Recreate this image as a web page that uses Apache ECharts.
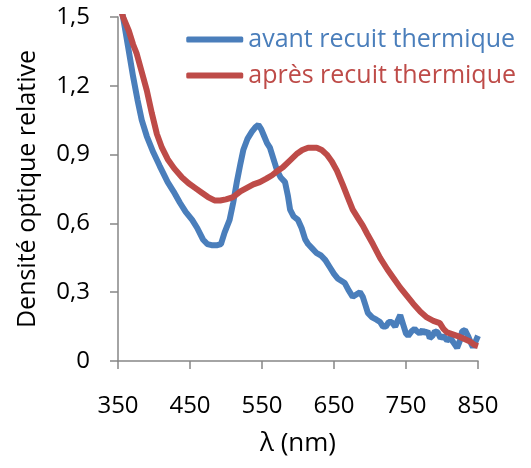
<!DOCTYPE html>
<html>
<head>
<meta charset="utf-8">
<script src="https://cdn.jsdelivr.net/npm/echarts@6/dist/echarts.min.js"></script>
<style>html,body{margin:0;padding:0;background:#fff}#c{width:531px;height:468px}</style>
</head>
<body>
<div id="c"></div>
<script>
var blueNm = [352,357,364,371,377,383,390,399,408,419,427,436,444,453,460,468,474,480,488,493,498,505,510,515,520,524,530,536,541,545,549,553,557,561,566,571,576,582,586,589,594,600,605,610,614,620,626,632,638,644,650,655,660,665,670,676,681,686,690,694,697,703,709,714,718,722,726,730,735,739,742,746,750,753,758,762,765,769,773,776,780,783,787,790,794,798,802,807,812,816,821,825,828,832,836,840,843,846,850];
var blueVal = [1.56,1.50,1.37,1.24,1.14,1.05,0.98,0.91,0.85,0.78,0.74,0.69,0.65,0.615,0.58,0.53,0.51,0.505,0.505,0.51,0.56,0.615,0.69,0.78,0.86,0.92,0.97,1.00,1.02,1.03,1.01,0.98,0.95,0.93,0.88,0.83,0.80,0.78,0.72,0.66,0.63,0.615,0.58,0.53,0.51,0.49,0.47,0.46,0.44,0.41,0.38,0.36,0.35,0.34,0.31,0.28,0.29,0.30,0.28,0.24,0.21,0.19,0.18,0.17,0.15,0.15,0.17,0.17,0.15,0.18,0.20,0.16,0.12,0.11,0.13,0.14,0.13,0.12,0.135,0.12,0.13,0.10,0.11,0.13,0.125,0.10,0.11,0.09,0.10,0.08,0.057,0.09,0.13,0.135,0.11,0.08,0.06,0.08,0.11];
var redNm = [352,357,365,371,376,383,390,397,404,411,419,428,439,448,457,466,475,484,492,500,510,520,529,538,547,556,564,572,579,589,599,606,614,620,626,633,640,647,654,662,669,676,684,690,696,704,714,724,733,742,751,760,770,779,788,797,802,807,816,825,832,839,845,850];
var redVal = [1.56,1.50,1.44,1.38,1.34,1.26,1.18,1.08,0.99,0.93,0.88,0.84,0.80,0.775,0.755,0.735,0.715,0.70,0.70,0.705,0.715,0.74,0.755,0.77,0.78,0.795,0.81,0.83,0.845,0.875,0.905,0.92,0.93,0.93,0.93,0.92,0.90,0.87,0.83,0.77,0.715,0.66,0.62,0.59,0.555,0.51,0.45,0.40,0.36,0.32,0.285,0.25,0.215,0.19,0.175,0.165,0.14,0.125,0.115,0.105,0.095,0.085,0.07,0.065];
var seriesNames = ['avant recuit thermique', 'après recuit thermique'];
var xTicks = [350,450,550,650,750,850];
var yTicks = [0,0.3,0.6,0.9,1.2,1.5];

function pairs(xs, ys){ return xs.map(function(x,i){ return [x, ys[i]]; }); }
var FONT = '"Open Sans"';
var axisColor = '#868686';
var blue = '#4a7ebb', red = '#be4b48';
var chart = echarts.init(document.getElementById('c'), null, {renderer:'canvas'});
chart.setOption({
  animation: false,
  textStyle: {fontFamily: FONT},
  grid: {left: 118, right: 53, top: 17, bottom: 107, containLabel: false},
  legend: {
    orient: 'vertical', right: 10, top: 22, itemGap: 11, itemWidth: 57, itemHeight: 6,
    icon: 'roundRect',
    data: [
      {name: seriesNames[0], textStyle: {color: blue}},
      {name: seriesNames[1], textStyle: {color: red}}
    ],
    textStyle: {fontFamily: FONT, fontSize: 25}
  },
  xAxis: {
    type: 'value', min: 350, max: 850, interval: 100,
    name: 'λ (nm)', nameLocation: 'middle', nameGap: 70,
    nameTextStyle: {fontFamily: FONT, fontSize: 26, color: '#000'},
    axisLine: {show: true, lineStyle: {color: axisColor, width: 1.5}},
    axisTick: {show: true, length: 8, lineStyle: {color: axisColor, width: 1.5}},
    axisLabel: {fontFamily: FONT, fontSize: 24, color: '#000', margin: 33},
    splitLine: {show: false}
  },
  yAxis: {
    type: 'value', min: 0, max: 1.5, interval: 0.3,
    name: 'Densité optique relative', nameLocation: 'middle', nameGap: 78,
    nameTextStyle: {fontFamily: FONT, fontSize: 25, color: '#000'},
    axisLine: {show: true, lineStyle: {color: axisColor, width: 1.5}},
    axisTick: {show: true, length: 8, lineStyle: {color: axisColor, width: 1.5}},
    axisLabel: {fontFamily: FONT, fontSize: 24, color: '#000', margin: 28,
      formatter: function(v){ return String(Math.round(v*10)/10).replace('.', ','); }},
    splitLine: {show: false}
  },
  series: [
    {name: seriesNames[0], type: 'line', data: pairs(blueNm, blueVal), symbol: 'none', clip: true,
     lineStyle: {color: blue, width: 6}, itemStyle: {color: blue}},
    {name: seriesNames[1], type: 'line', data: pairs(redNm, redVal), symbol: 'none', clip: true,
     lineStyle: {color: red, width: 6}, itemStyle: {color: red}}
  ]
});
</script>
</body>
</html>
